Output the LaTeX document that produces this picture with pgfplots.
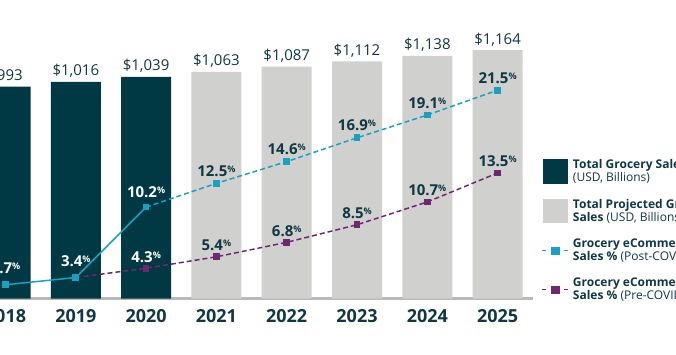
\documentclass[border=0pt]{standalone}
\usepackage{pgfplots}
\pgfplotsset{compat=1.18}
\usepackage{fontspec}
\setmainfont{Open Sans}
\definecolor{darkbar}{RGB}{0,57,68}
\definecolor{graybar}{RGB}{208,208,206}
\definecolor{cyanl}{RGB}{27,160,192}
\definecolor{purpl}{RGB}{110,40,112}
\definecolor{txt}{RGB}{16,56,66}
\definecolor{axisgray}{RGB}{185,185,185}
\newcommand{\pct}[1]{\bfseries #1\raisebox{4pt}{\fontsize{9}{9}\selectfont\bfseries\%}}
\newcommand{\lgf}{\fontsize{12}{13.5}\selectfont}
\begin{document}
\begin{tikzpicture}[x=1pt,y=1pt]
\path[use as bounding box, clip] (0,0) rectangle (676,354);
% bars
\begin{axis}[
  at={(-29.65pt,55.5pt)}, anchor=south west,
  x=70.3pt, y=0.2133pt,
  xmin=-0.5, xmax=7.5, ymin=0, ymax=1400,
  axis x line*=bottom, axis y line=none,
  x axis line style={-, draw=axisgray, line width=2.5pt},
  xtick={0,1,2,3,4,5,6,7},
  xticklabels={2018,2019,2020,2021,2022,2023,2024,2025},
  major tick length=0pt,
  xticklabel style={font=\fontsize{18}{20}\selectfont\bfseries, text=txt, anchor=base, yshift=-24pt},
  ytick=\empty,
  ybar, bar width=50pt,
  clip=false,
  /pgf/number format/assume math mode=true,
  nodes near coords={\$\pgfmathprintnumber[1000 sep={,}]{\pgfplotspointmeta}},
  every node near coord/.append style={font=\fontsize{15}{17}\selectfont, text=txt, anchor=base, yshift=6pt},
]
\addplot[bar shift=0pt, fill=darkbar, draw=none] coordinates {(0,993) (1,1016) (2,1039)};
\addplot[bar shift=0pt, fill=graybar, draw=none] coordinates {(3,1063) (4,1087) (5,1112) (6,1138) (7,1164)};
\end{axis}
% percentages
\begin{axis}[
  at={(-29.65pt,55.5pt)}, anchor=south west,
  x=70.3pt, y=10.35pt,
  xmin=-0.5, xmax=7.5, ymin=1.372, ymax=30.16,
  hide axis, clip=false,
  legend style={at={(axis description cs:1.0146,0.474)}, anchor=north west,
    draw=none, fill=none, inner sep=0pt, outer sep=0pt, row sep=11.5pt, column sep=2pt,
    font=\lgf, text=txt,
    cells={anchor=west, align=left, font=\lgf}},
  legend cell align=left,
]
\addlegendimage{legend image code/.code={\fill[darkbar] (0pt,-11.7pt) rectangle (23.5pt,11.7pt);}}
\addlegendentry{\lgf\textbf{Total Grocery Sales}\\\lgf(USD, Billions)}
\addlegendimage{legend image code/.code={\fill[graybar] (0pt,-11.7pt) rectangle (23.5pt,11.7pt);}}
\addlegendentry{\lgf\textbf{Total Projected Grocery}\\\lgf\textbf{Sales} (USD, Billions)}
\addlegendimage{legend image code/.code={\draw[cyanl, line width=1.5pt] (-1.5pt,0pt) -- (2.5pt,0pt) (21pt,0pt) -- (25pt,0pt); \fill[cyanl] (8pt,-3.6pt) rectangle (15.5pt,3.6pt);}}
\addlegendentry{\lgf\textbf{Grocery eCommerce}\\\lgf\textbf{Sales \%} (Post-COVID)}
\addlegendimage{legend image code/.code={\draw[purpl, line width=1.5pt] (-1.5pt,0pt) -- (2.5pt,0pt) (21pt,0pt) -- (25pt,0pt); \fill[purpl] (8pt,-3.6pt) rectangle (15.5pt,3.6pt);}}
\addlegendentry{\lgf\textbf{Grocery eCommerce}\\\lgf\textbf{Sales \%} (Pre-COVID)}

\addplot[forget plot, purpl, line width=1.5pt, dash pattern=on 5pt off 3pt, mark=square*, mark size=2.6pt, mark options={solid}]
  coordinates {(1,3.4) (2,4.3) (3,5.4) (4,6.8) (5,8.5) (6,10.7) (7,13.5)};
\addplot[forget plot, cyanl, line width=1.5pt, dash pattern=on 5pt off 3pt, mark=square*, mark size=2.6pt, mark options={solid}]
  coordinates {(2,10.2) (3,12.5) (4,14.6) (5,16.9) (6,19.1) (7,21.5)};
\addplot[forget plot, cyanl, line width=1.5pt, mark=square*, mark size=2.6pt]
  coordinates {(0,2.7) (1,3.4) (2,10.2)};

% labels
\addplot[forget plot, draw=none, mark=none, point meta=explicit symbolic,
  nodes near coords={\pct{\pgfplotspointmeta}},
  every node near coord/.append style={font=\fontsize{15}{17}\selectfont, text=white, anchor=base, yshift=11pt}]
  coordinates {(0,2.7) [2.7] (1,3.4) [3.4]};
\addplot[forget plot, draw=none, mark=none, point meta=explicit symbolic,
  nodes near coords={\pct{\pgfplotspointmeta}},
  every node near coord/.append style={font=\fontsize{15}{17}\selectfont, text=white, anchor=base, yshift=10pt}]
  coordinates {(2,10.2) [10.2]};
\addplot[forget plot, draw=none, mark=none, point meta=explicit symbolic,
  nodes near coords={\pct{\pgfplotspointmeta}},
  every node near coord/.append style={font=\fontsize{15}{17}\selectfont, text=white, anchor=base, yshift=6pt}]
  coordinates {(2,4.3) [4.3]};
\addplot[forget plot, draw=none, mark=none, point meta=explicit symbolic,
  nodes near coords={\pct{\pgfplotspointmeta}},
  every node near coord/.append style={font=\fontsize{15}{17}\selectfont, text=txt, anchor=base, yshift=7pt}]
  coordinates {(3,12.5) [12.5] (4,14.6) [14.6] (5,16.9) [16.9] (6,19.1) [19.1] (7,21.5) [21.5]};
\addplot[forget plot, draw=none, mark=none, point meta=explicit symbolic,
  nodes near coords={\pct{\pgfplotspointmeta}},
  every node near coord/.append style={font=\fontsize{15}{17}\selectfont, text=txt, anchor=base, yshift=6pt}]
  coordinates {(3,5.4) [5.4] (4,6.8) [6.8] (5,8.5) [8.5] (6,10.7) [10.7] (7,13.5) [13.5]};
\end{axis}
\end{tikzpicture}
\end{document}
